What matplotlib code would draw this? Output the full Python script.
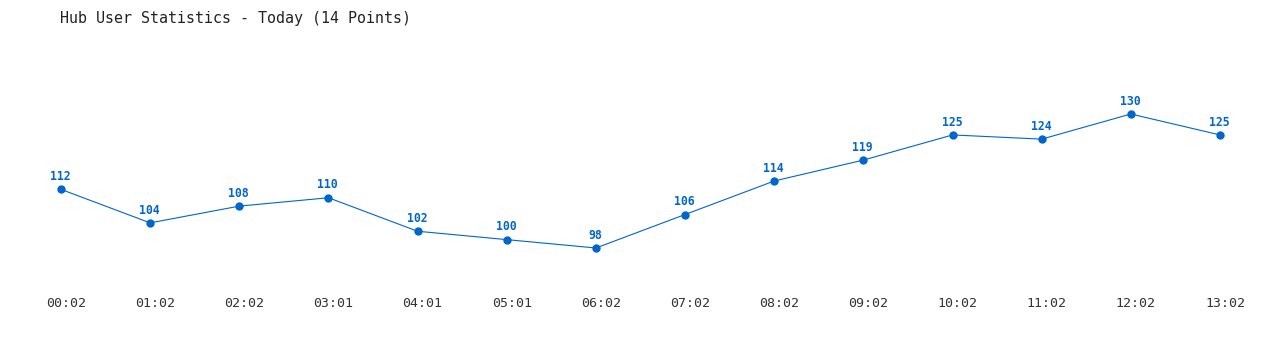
import matplotlib
matplotlib.use("Agg")
import matplotlib.pyplot as plt
from matplotlib.transforms import ScaledTranslation

times = ["00:02", "01:02", "02:02", "03:01", "04:01", "05:01", "06:02",
         "07:02", "08:02", "09:02", "10:02", "11:02", "12:02", "13:02"]
users = [112, 104, 108, 110, 102, 100, 98, 106, 114, 119, 125, 124, 130, 125]
title = "Hub User Statistics - Today (14 Points)"

color = "#0066CC"
W, H = 1280, 350
fig = plt.figure(figsize=(W / 100, H / 100), dpi=100)
fig.patch.set_facecolor("white")

# axes placed so that data range maps to pixel range
x0, x1 = 61, 1220
y_top, y_bot = 114, 248
ax = fig.add_axes([x0 / W, (H - y_bot) / H, (x1 - x0) / W, (y_bot - y_top) / H])
xs = list(range(len(times)))
ax.plot(xs, users, color=color, lw=0.8, marker="o", ms=5, clip_on=False)
ax.set_xlim(0, len(times) - 1)
ax.set_ylim(min(users), max(users))
for x, v in zip(xs, users):
    ax.annotate(str(v), (x, v), xytext=(-0.5, 4.5), textcoords="offset points",
                ha="center", va="bottom", color=color, fontsize=8.3,
                fontweight="bold", family="DejaVu Sans Mono")
ax.set_xticks(xs)
ax.set_xticklabels(times, family="DejaVu Sans Mono", fontsize=9.5, color="#333333")
ax.tick_params(axis="x", length=0, pad=35)
shift = ScaledTranslation(5 / 100, 0, fig.dpi_scale_trans)
for lbl in ax.get_xticklabels():
    lbl.set_transform(lbl.get_transform() + shift)
ax.set_yticks([])
for s in ax.spines.values():
    s.set_visible(False)
ax.patch.set_alpha(0)

fig.text(60 / W, 1 - 18 / H, title, ha="left", va="center",
         family="DejaVu Sans Mono", fontsize=10.8, color="#222222")

fig.savefig("out.png", dpi=100)
